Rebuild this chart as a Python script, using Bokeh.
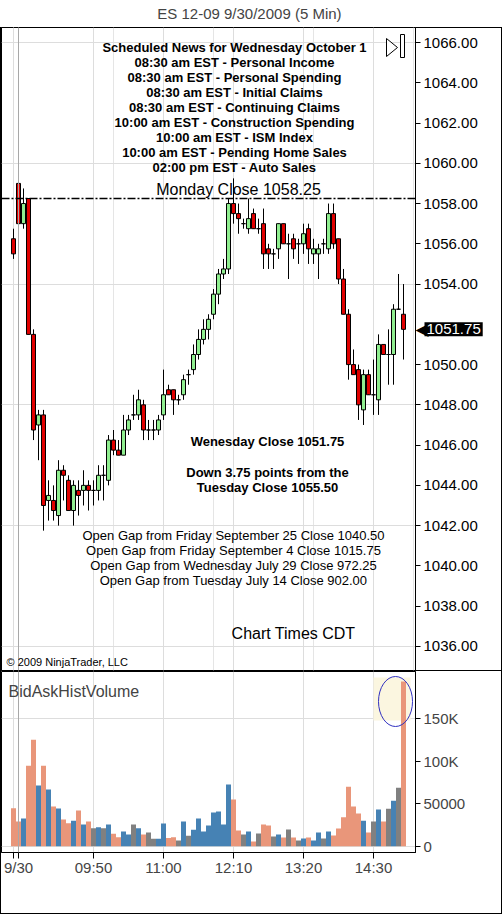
from bokeh.plotting import figure
from bokeh.layouts import column
from bokeh.models import (Range1d, FixedTicker, PrintfTickFormatter, Label, Span,
                          ColumnDataSource, Grid)
from bokeh.embed import file_html
from bokeh.resources import INLINE

FONT = "Liberation Sans"

chart_title = "ES 12-09  9/30/2009 (5 Min)"

opens = [1056.25, 1059.00, 1057.00, 1058.25, 1051.50, 1047.00, 1047.50, 1043.25, 1043.25, 1042.50,
         1044.75, 1044.25, 1042.75, 1043.75, 1043.75, 1044.00, 1043.75, 1043.75, 1044.50, 1044.25,
         1046.25, 1045.75, 1045.50, 1046.75, 1047.50, 1047.50, 1048.00, 1046.75, 1046.75, 1046.75,
         1047.50, 1048.75, 1048.75, 1048.25, 1048.50, 1049.50, 1049.75, 1050.50, 1051.25, 1051.75,
         1052.50, 1053.50, 1054.50, 1054.75, 1058.00, 1057.50, 1057.00, 1056.75, 1057.50, 1056.75,
         1057.00, 1055.75, 1055.50, 1055.75, 1057.00, 1056.00, 1056.25, 1056.00, 1056.00, 1056.75,
         1055.50, 1055.50, 1056.00, 1055.75, 1057.50, 1056.25, 1054.25, 1052.50, 1050.00, 1049.75,
         1047.75, 1049.50, 1048.50, 1048.25, 1051.00, 1050.50, 1050.50, 1052.75, 1052.50]
highs = [1056.75, 1060.00, 1058.75, 1058.25, 1051.75, 1047.75, 1047.75, 1044.25, 1044.00, 1045.25,
         1045.00, 1044.50, 1044.25, 1044.25, 1044.75, 1044.25, 1044.25, 1045.00, 1045.00, 1046.50,
         1046.75, 1046.25, 1047.50, 1047.50, 1048.50, 1048.75, 1048.25, 1047.25, 1047.25, 1047.50,
         1049.75, 1049.00, 1048.75, 1048.50, 1049.50, 1049.75, 1051.00, 1051.75, 1052.25, 1052.50,
         1053.75, 1054.75, 1055.25, 1058.25, 1059.25, 1058.00, 1057.25, 1058.25, 1057.75, 1057.25,
         1057.75, 1056.00, 1055.75, 1057.00, 1057.00, 1056.50, 1056.50, 1056.25, 1057.00, 1057.00,
         1056.25, 1056.00, 1056.25, 1058.00, 1058.00, 1056.25, 1054.75, 1052.75, 1050.75, 1050.00,
         1049.75, 1049.75, 1050.25, 1051.50, 1051.00, 1051.75, 1053.00, 1054.50, 1054.00]
lows = [1055.25, 1057.00, 1056.75, 1051.50, 1046.25, 1045.25, 1041.75, 1042.25, 1042.25, 1042.00,
        1043.25, 1042.75, 1042.00, 1042.50, 1043.00, 1042.75, 1043.00, 1043.25, 1043.25, 1044.00,
        1045.50, 1045.50, 1045.50, 1046.50, 1047.25, 1047.25, 1046.25, 1046.25, 1046.25, 1046.50,
        1047.25, 1048.50, 1047.50, 1048.00, 1048.25, 1049.00, 1049.50, 1050.25, 1051.00, 1051.25,
        1052.25, 1053.00, 1054.25, 1054.50, 1057.00, 1056.50, 1056.75, 1056.50, 1056.75, 1056.50,
        1054.75, 1054.75, 1054.75, 1055.25, 1056.00, 1054.25, 1055.25, 1055.00, 1055.50, 1055.00,
        1055.00, 1054.25, 1055.50, 1055.50, 1055.75, 1054.00, 1052.50, 1049.25, 1049.50, 1047.25,
        1047.00, 1048.50, 1047.50, 1047.50, 1050.50, 1049.00, 1049.00, 1052.75, 1050.25]
closes = [1055.50, 1057.00, 1058.00, 1051.50, 1046.75, 1047.50, 1043.00, 1043.50, 1042.75, 1044.75,
          1044.50, 1042.75, 1044.00, 1043.50, 1044.00, 1043.75, 1043.75, 1044.50, 1044.50, 1046.25,
          1045.75, 1045.50, 1046.75, 1047.25, 1047.50, 1048.25, 1046.75, 1046.75, 1046.75, 1047.25,
          1048.50, 1048.50, 1048.25, 1048.25, 1049.25, 1049.50, 1050.50, 1051.25, 1051.75, 1052.25,
          1053.50, 1054.50, 1054.75, 1058.00, 1057.50, 1057.25, 1057.00, 1057.25, 1056.75, 1056.75,
          1055.50, 1055.50, 1055.50, 1057.00, 1056.00, 1056.00, 1055.75, 1056.00, 1056.50, 1055.75,
          1055.75, 1055.75, 1056.00, 1057.50, 1056.00, 1054.25, 1052.50, 1050.00, 1049.50, 1048.00,
          1049.50, 1048.50, 1048.50, 1051.00, 1050.50, 1050.50, 1052.75, 1052.75, 1051.75]
volume_k = [44.7, 29.0, 32.5, 94.5, 125.0, 71.3, 94.5, 66.6, 46.6, 44.3,
            31.4, 27.0, 30.0, 42.0, 25.5, 29.0, 21.2, 22.3, 21.0, 25.5,
            14.5, 10.6, 17.3, 13.8, 25.5, 21.0, 13.8, 16.1, 8.7, 8.7,
            26.7, 9.5, 10.6, 6.7, 29.0, 12.2, 19.2, 32.5, 17.3, 24.3,
            39.6, 40.8, 25.4, 72.5, 54.9, 18.4, 13.8, 17.3, 5.6, 15.0,
            25.5, 24.3, 11.4, 13.8, 10.2, 19.6, 10.2, 6.7, 9.0, 10.2,
            6.7, 16.1, 9.0, 17.3, 12.6, 20.8, 34.0, 70.0, 46.6, 38.4,
            30.0, 16.0, 29.0, 43.0, 29.0, 44.0, 53.5, 68.7, 193.5]

x_tick_idx = [0, 1, 16, 30, 44, 58, 72]
x_tick_labels = ["", "9/30", "09:50", "11:00", "12:10", "13:20", "14:30"]
session_start_idx = 1
price_ticks = [1036, 1038, 1040, 1042, 1044, 1046, 1048, 1050, 1054, 1056, 1058, 1060, 1062, 1064, 1066]
price_grid = [1036, 1042, 1048, 1054, 1060, 1066]
vol_ticks = [0, 50000, 100000, 150000]
vol_tick_labels = ["0", "50000", "100K", "150K"]
vol_grid = [0, 150000]

monday_close = 1058.25
news_lines = ["Scheduled News for Wednesday October 1",
              "08:30 am EST - Personal Income",
              "08:30 am EST - Personal Spending",
              "08:30 am EST - Initial Claims",
              "08:30 am EST - Continuing Claims",
              "10:00 am EST - Construction Spending",
              "10:00 am EST - ISM Index",
              "10:00 am EST - Pending Home Sales",
              "02:00 pm EST - Auto Sales"]
close_lines = ["Wenesday Close 1051.75", "", "Down 3.75 points from the", "Tuesday Close 1055.50"]
gap_lines = ["Open Gap from Friday September 25 Close 1040.50",
             "Open Gap from Friday September 4 Close 1015.75",
             "Open Gap from Wednesday July 29 Close 972.25",
             "Open Gap from Tuesday July 14 Close 902.00"]

# ---------- pixel helpers (layout only) ----------
def px2x(px):
    return (px - 13.0) / 5.0

PX_PER_PT = 20.13
def py2p(py):
    return 1066.0 - (py - 42.0) / PX_PER_PT

PX_PER_VOL = 0.851 / 1000.0
def py2v(py):  # page pixel -> volume value
    return (845.7 - py) / PX_PER_VOL

UP = "#90EE90"
DOWN = "#E00000"
VUP, VDN, VFLAT = "#4682B4", "#E9967A", "#808080"
GRID = "#DDDDDD"
SESSION = "#A8A8A8"

n = len(opens)
idx = list(range(n))
body_top = [max(o, c) for o, c in zip(opens, closes)]
body_bot = [min(o, c) for o, c in zip(opens, closes)]
body_col = [UP if c >= o else DOWN for o, c in zip(opens, closes)]
vol_col = [VUP if c > o else (VDN if c < o else VFLAT) for o, c in zip(opens, closes)]
src = ColumnDataSource(dict(x=idx, o=opens, h=highs, l=lows, c=closes, top=body_top,
                            bot=body_bot, col=body_col, v=[k * 1000 for k in volume_k], vcol=vol_col))

xr = Range1d(px2x(1), px2x(415))

LINE = "linear-gradient(#000,#000)"
p_styles = {"background": ", ".join([
    LINE + " 0px 27px / 100% 1px no-repeat",
    LINE + " 0px 670px / 100% 1px no-repeat",
    LINE + " 0px 27px / 1px 100% no-repeat",
    LINE + " 501px 27px / 1px 100% no-repeat"])}
q_styles = {"background": ", ".join([
    LINE + " 0px 242px / 100% 1px no-repeat",
    LINE + " 0px 0px / 1px 100% no-repeat",
    LINE + " 501px 0px / 1px 100% no-repeat"])}

EXTRA = 80  # spare bottom border of the price panel (hosts the last-price tag), overlapped by the volume panel

# ---------------- price panel ----------------
p = figure(width=502, height=671 + EXTRA - 1, x_range=xr, y_range=Range1d(py2p(670), py2p(27)),
           output_backend="svg", toolbar_location=None, x_axis_location=None,
           y_axis_location="right", min_border_left=1, min_border_right=87,
           min_border_top=27, min_border_bottom=EXTRA, styles=p_styles)
p.border_fill_color = None
p.outline_line_color = "black"
p.background_fill_color = "white"
p.ygrid.visible = False
p.add_layout(Grid(dimension=0, ticker=FixedTicker(ticks=x_tick_idx), grid_line_color=GRID))
p.add_layout(Grid(dimension=1, ticker=FixedTicker(ticks=price_grid), grid_line_color=GRID))
p.add_layout(Span(location=session_start_idx, dimension="height", line_color=SESSION, line_width=1))

ya = p.yaxis[0]
ya.ticker = FixedTicker(ticks=price_ticks)
ya.formatter = PrintfTickFormatter(format="%.2f")
ya.major_tick_out = 5
ya.major_tick_in = 0
ya.minor_tick_out = 0
ya.minor_tick_in = 0
ya.major_label_standoff = 3
ya.major_label_text_font = FONT
ya.major_label_text_font_size = "15px"
ya.major_label_text_color = "black"
ya.axis_line_color = "black"

p.segment(x0="x", y0="h", x1="x", y1="l", source=src, line_color="black", line_width=1)
p.vbar(x="x", top="top", bottom="bot", width=0.8, source=src, fill_color="col",
       line_color="black", line_width=1)

p.add_layout(Span(location=monday_close, dimension="width", line_color="black",
                  line_dash="8 2 2 2", line_width=1.5))

def lab(fig, px, y, text, size="13px", style="normal", align="center", color="black", base="middle"):
    fig.add_layout(Label(x=px2x(px), y=y, text=text, text_font=FONT, text_font_size=size,
                         text_font_style=style, text_align=align, text_baseline=base,
                         text_color=color))

for k, t in enumerate(news_lines):
    lab(p, 234, py2p(47 + 15 * k), t, size="13px", style="bold")
lab(p, 238, py2p(189), "Monday Close %.2f" % monday_close, size="16px")
for k, t in enumerate(close_lines):
    if t:
        lab(p, 267, py2p(441 + 15.3 * k), t, size="13px", style="bold")
for k, t in enumerate(gap_lines):
    lab(p, 233, py2p(535 + 15 * k), t, size="13px")
lab(p, 293, py2p(633), "Chart Times CDT", size="16px")
lab(p, 6, py2p(661), "\u00a9 2009 NinjaTrader, LLC", size="11px", align="left")

# labels living outside the frame go into side panels (not clipped)
last = closes[-1]
p.add_layout(Label(x=px2x(251), y=py2p(13), text=chart_title, text_font=FONT,
                   text_font_size="15px", text_align="center", text_baseline="middle"), "above")
p.add_layout(Label(x=px2x(415), y=last, text="\u25c0", text_font="DejaVu Sans",
                   text_font_size="17px", text_color="black", text_align="left",
                   text_baseline="middle"), "below")
p.add_layout(Label(x=px2x(424), y=last, text="%.2f" % last, text_font=FONT, text_font_size="15px",
                   text_color="white", text_align="left", text_baseline="middle",
                   background_fill_color="black", padding=2), "below")

# navigation icon
p.patch(x=[px2x(386), px2x(386), px2x(397)], y=[py2p(38), py2p(56), py2p(47)],
        fill_color="white", line_color="black", line_width=1)
p.quad(left=px2x(400), right=px2x(404), top=py2p(34), bottom=py2p(57),
       fill_color="white", line_color="black", line_width=1)

# ---------------- volume panel ----------------
q = figure(width=502, height=243, x_range=xr, y_range=Range1d(py2v(852), py2v(671)),
           output_backend="svg", toolbar_location=None, x_axis_location="below",
           y_axis_location="right", min_border_left=1, min_border_right=87,
           min_border_top=0, min_border_bottom=62, styles=q_styles,
           margin=(-(EXTRA - 1), 0, 0, 0))
q.border_fill_color = None
q.outline_line_color = "black"
q.background_fill_color = "white"
q.xgrid.visible = False
q.ygrid.visible = False
q.add_layout(Grid(dimension=0, ticker=FixedTicker(ticks=x_tick_idx), grid_line_color=GRID))
q.add_layout(Grid(dimension=1, ticker=FixedTicker(ticks=vol_grid), grid_line_color=GRID))
q.add_layout(Span(location=session_start_idx, dimension="height", line_color=SESSION, line_width=1))

# highlight
q.quad(left=px2x(373), right=px2x(410), top=py2v(677), bottom=py2v(720),
       fill_color="#FBF6E0", line_color=None)

q.vbar(x="x", top="v", bottom=0, width=1.0, source=src, fill_color="vcol", line_color=None)

q.ellipse(x=[px2x(395)], y=[py2v(701)], width=[34], height=[50], width_units="screen",
          height_units="screen", fill_color=None, line_color="#3030C0", line_width=1)

qa = q.yaxis[0]
qa.ticker = FixedTicker(ticks=vol_ticks)
qa.major_label_overrides = {t: s for t, s in zip(vol_ticks, vol_tick_labels)}
qa.major_tick_out = 5
qa.major_tick_in = 0
qa.minor_tick_out = 0
qa.minor_tick_in = 0
qa.major_label_standoff = 3
qa.major_label_text_font = FONT
qa.major_label_text_font_size = "15px"
qa.axis_line_color = "black"

xa = q.xaxis[0]
xa.ticker = FixedTicker(ticks=x_tick_idx)
xa.major_label_overrides = {t: s for t, s in zip(x_tick_idx, x_tick_labels)}
xa.major_tick_out = 6
xa.major_tick_in = 0
xa.minor_tick_out = 0
xa.minor_tick_in = 0
xa.major_label_standoff = 0
xa.major_label_text_font = FONT
xa.major_label_text_font_size = "15px"
xa.axis_line_color = "black"

q.add_layout(Label(x=px2x(8), y=py2v(691), text="BidAskHistVolume", text_font=FONT,
                   text_font_size="16px", text_align="left", text_baseline="middle"))

layout = column(p, q, spacing=0)
open("out.html", "w").write(file_html(layout, INLINE))
